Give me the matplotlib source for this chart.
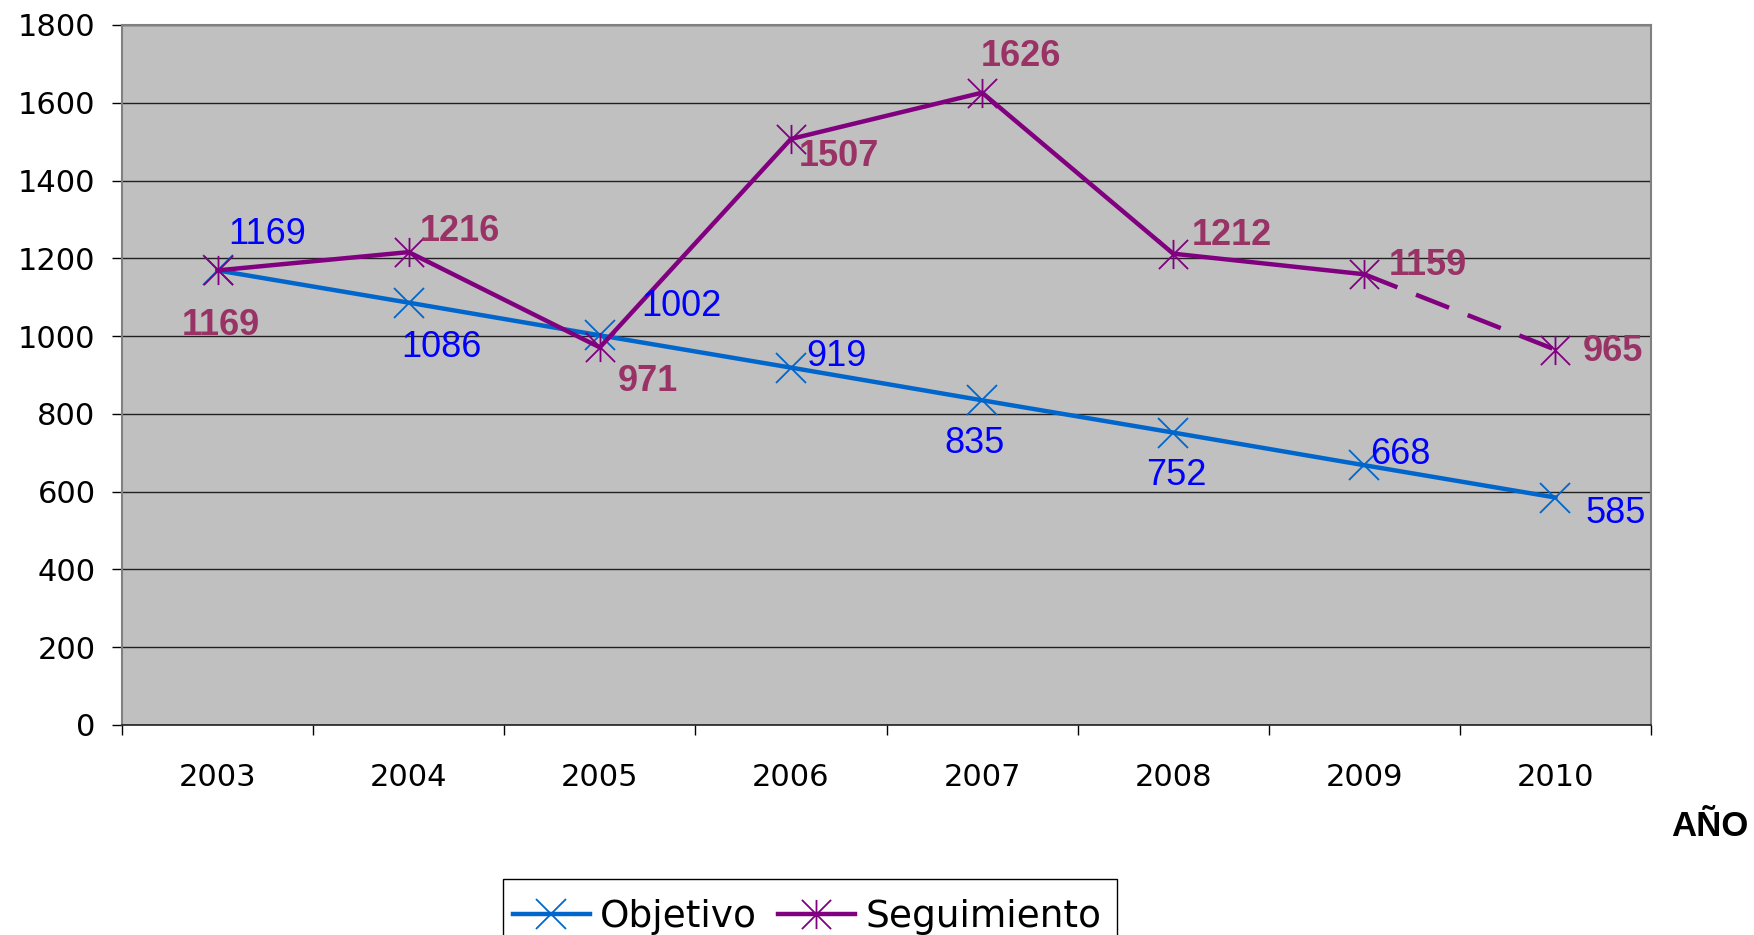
import matplotlib
matplotlib.use("Agg")
import matplotlib.pyplot as plt
from matplotlib.path import Path
from matplotlib.patches import Rectangle
import numpy as np

years = ["2003", "2004", "2005", "2006", "2007", "2008", "2009", "2010"]
objetivo = [1169, 1086, 1002, 919, 835, 752, 668, 585]
seguimiento = [1169, 1216, 971, 1507, 1626, 1212, 1159, 965]
y_ticks = [0, 200, 400, 600, 800, 1000, 1200, 1400, 1600, 1800]

# label offsets in pixels (style only)
obj_off = [(50, 36), (33, -45), (82, 29), (46, 11), (-8, -43), (3, -43), (36, 11), (60, -16)]
seg_off = [(3, -55), (51, 21), (48, -34), (48, -18), (39, 36), (59, 18), (64, 9), (57, -2)]

W, H = 1754, 935
fig = plt.figure(figsize=(W / 100, H / 100), dpi=100)
ax = fig.add_axes([122 / W, 1 - 725 / H, 1529 / W, 700 / H])
ax.set_facecolor("#C0C0C0")

x = np.arange(len(years))
blue = "#0066CC"
purple = "#800080"

star = Path([(-1, -1), (1, 1), (-1, 1), (1, -1), (0, -1), (0, 1)],
            [Path.MOVETO, Path.LINETO, Path.MOVETO, Path.LINETO, Path.MOVETO, Path.LINETO])

LW = 3.2
MS = 21
ax.plot(x, objetivo, color=blue, lw=LW, marker="x", ms=MS, mew=1.3, zorder=3)
ax.plot(x[:-1], seguimiento[:-1], color=purple, lw=LW, zorder=4)
ax.plot(x[-2:], seguimiento[-2:], color=purple, lw=LW, ls=(0, (8, 4.5)), zorder=4)
ax.plot(x, seguimiento, color=purple, lw=0, marker=star, ms=MS, mew=1.3, zorder=5)

for xi, v, off in zip(x, objetivo, obj_off):
    ax.annotate(str(v), (xi, v), xytext=off, textcoords="offset pixels",
                ha="center", va="center", color="#0000FF", fontsize=26,
                family="Liberation Sans", zorder=6)
for xi, v, off in zip(x, seguimiento, seg_off):
    ax.annotate(str(v), (xi, v), xytext=off, textcoords="offset pixels",
                ha="center", va="center", color="#993366", fontsize=26,
                fontweight="bold", family="Liberation Sans", zorder=6)

ax.set_xlim(-0.5, len(years) - 0.5)
ax.set_ylim(0, 1800)
ax.set_yticks(y_ticks)
ax.set_yticklabels([str(t) for t in y_ticks], fontsize=22)
ax.yaxis.grid(True, color="#202020", lw=1)
ax.set_axisbelow(True)

ax.set_xticks(np.arange(-0.5, len(years), 1.0))
ax.set_xticklabels([])
ax.set_xticks(x, minor=True)
ax.set_xticklabels(years, minor=True, fontsize=22)
ax.tick_params(axis="x", which="major", length=7, width=1, direction="out")
ax.tick_params(axis="x", which="minor", length=0, pad=27)
ax.tick_params(axis="y", length=7, width=1, pad=12)

for s in ["left", "top", "right"]:
    ax.spines[s].set_color("#808080")
    ax.spines[s].set_linewidth(1.5)
ax.spines["bottom"].set_color("#202020")
ax.spines["bottom"].set_linewidth(1.2)

fig.text(1749 / W, 1 - 826 / H, "AÑO", ha="right", va="center", fontsize=25,
         fontweight="bold", family="Liberation Sans")

# legend box
fig.patches.append(Rectangle((503 / W, 1 - 960 / H), (1117 - 503) / W, 81 / H,
                             transform=fig.transFigure, facecolor="white",
                             edgecolor="black", lw=1, zorder=1))
h1, = ax.plot([], [], color=blue, lw=LW, marker="x", ms=MS, mew=1.3)
h2, = ax.plot([], [], color=purple, lw=LW, marker=star, ms=MS, mew=1.3)
leg = fig.legend([h1, h2], ["Objetivo", "Seguimiento"], loc="center left",
                 bbox_to_anchor=(513 / W, 1 - 917 / H), ncol=2, fontsize=27,
                 frameon=False, handlelength=2.05, handletextpad=0.28,
                 columnspacing=0.55, borderpad=0, borderaxespad=0)
leg.set_zorder(2)

fig.savefig("out.png", dpi=100)
